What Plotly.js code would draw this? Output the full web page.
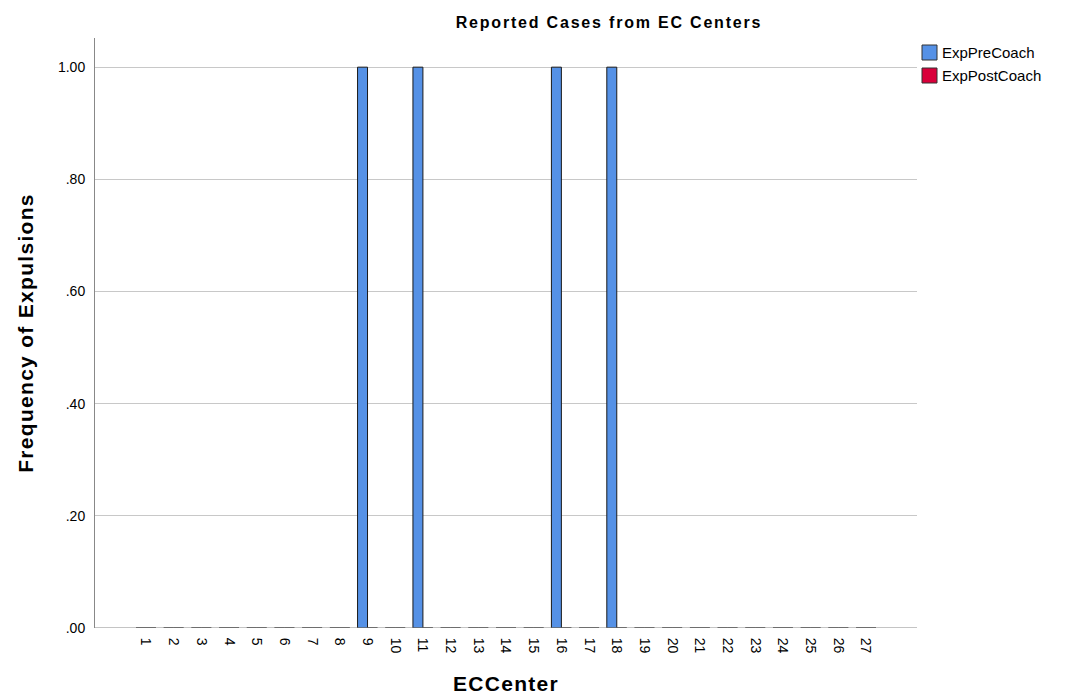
<!DOCTYPE html>
<html><head><meta charset="utf-8">
<script src="https://cdn.plot.ly/plotly-3.0.1.min.js"></script>
<style>
body{margin:0;background:#fff}#chart{width:1073px;height:695px}
#chart .gtitle{letter-spacing:1.8px}
#chart .g-xtitle text,#chart .g-ytitle text{letter-spacing:1.3px}
</style>
</head><body><div id="chart"></div>
<script>
const centers = [1,2,3,4,5,6,7,8,9,10,11,12,13,14,15,16,17,18,19,20,21,22,23,24,25,26,27];
const expPreCoach  = [0,0,0,0,0,0,0,0,1,0,1,0,0,0,0,1,0,1,0,0,0,0,0,0,0,0,0];
const expPostCoach = [0,0,0,0,0,0,0,0,0,0,0,0,0,0,0,0,0,0,0,0,0,0,0,0,0,0,0];
const seriesNames = ['ExpPreCoach','ExpPostCoach'];
const seriesColors = ['#5591E6','#D9003A'];
const yTickVals = [0,0.2,0.4,0.6,0.8,1.0];
const yTickText = ['.00','.20','.40','.60','.80','1.00'];

const font = 'Liberation Sans, Arial, sans-serif';
const L = 95, R = 156, T = 38, B = 67, W = 1073, H = 695;
const pw = W - L - R, ph = H - T - B;
const px2x = p => (p - L) / pw;
const py2y = p => 1 - (p - T) / ph;

const data = [
  {type:'bar', name:seriesNames[0], x:centers, y:expPreCoach, showlegend:false,
   marker:{color:seriesColors[0], line:{color:'#1a1a1a', width:1}}},
  {type:'bar', name:seriesNames[1], x:centers, y:expPostCoach, showlegend:false,
   marker:{color:seriesColors[1], line:{color:'#1a1a1a', width:1}}}
];

const shapes = [
  {type:'line', xref:'paper', yref:'y', x0:0, x1:1, y0:0, y1:0, line:{color:'#888', width:1}}
];
const annotations = [];
seriesNames.forEach((n, i) => {
  const top = 45 + i * 23;
  shapes.push({type:'rect', xref:'paper', yref:'paper',
    x0:px2x(922), x1:px2x(937), y0:py2y(top + 15), y1:py2y(top),
    fillcolor:seriesColors[i], line:{color:'#333', width:1}});
  annotations.push({xref:'paper', yref:'paper', x:px2x(940), y:py2y(top + 7.5),
    xanchor:'left', yanchor:'middle', showarrow:false, text:n,
    font:{family:font, size:15, color:'#000'}});
});

const layout = {
  width:W, height:H,
  margin:{l:L, r:R, t:T, b:B},
  paper_bgcolor:'#fff', plot_bgcolor:'#fff',
  barmode:'group', bargap:0.28, bargroupgap:0,
  font:{family:font, color:'#000'},
  showlegend:false,
  title:{text:'<b>Reported Cases from EC Centers</b>', font:{family:font, size:16, color:'#000'},
         x:px2x(609), xanchor:'center', y:1-22/H, yanchor:'middle', xref:'paper'},
  xaxis:{
    range:[-0.84, 28.84], tickmode:'array', tickvals:centers, ticktext:centers.map(String),
    tickangle:90, tickfont:{family:font, size:14, color:'#000'},
    showgrid:false, zeroline:false, showline:false,
    ticks:'outside', ticklen:6, tickcolor:'rgba(0,0,0,0)',
    title:{text:'<b>ECCenter</b>', font:{family:font, size:21, color:'#000'}, standoff:30}
  },
  yaxis:{
    range:[0, 1.052], tickmode:'array', tickvals:yTickVals, ticktext:yTickText,
    tickfont:{family:font, size:14, color:'#000'},
    showgrid:true, gridcolor:'#c8c8c8', gridwidth:1,
    zeroline:false, showline:true, linecolor:'#888', linewidth:1,
    ticks:'outside', ticklen:6, tickcolor:'rgba(0,0,0,0)',
    title:{text:'<b>Frequency of Expulsions</b>', font:{family:font, size:21, color:'#000'}, standoff:18}
  },
  shapes:shapes,
  annotations:annotations
};
Plotly.newPlot('chart', data, layout, {displayModeBar:false});
</script></body></html>
